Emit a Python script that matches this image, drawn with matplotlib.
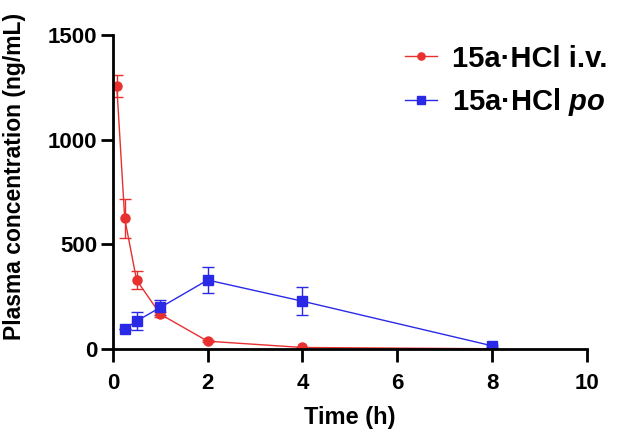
import matplotlib.pyplot as plt

plt.rcParams['font.family'] = ['Liberation Sans', 'DejaVu Sans']
plt.rcParams['font.weight'] = 'bold'
plt.rcParams['mathtext.fontset'] = 'custom'
plt.rcParams['mathtext.bfit'] = 'Liberation Sans:bold:italic'

# time points (h)
t_iv = [0.083, 0.25, 0.5, 1, 2, 4, 8]
c_iv = [1256, 624, 330, 167, 38, 8, 2]
sd_iv = [53, 95, 45, 12, 6, 2, 1]

t_po = [0.25, 0.5, 1, 2, 4, 8]
c_po = [97, 134, 199, 330, 229, 16]
sd_po = [0, 44, 38, 60, 68, 4]

red = '#e8302f'
blue = '#2a2ae6'

fig = plt.figure(figsize=(6.27, 4.37), dpi=100)
ax = fig.add_axes([0.180, 0.201, 0.756, 0.719])

ax.errorbar(t_iv, c_iv, yerr=sd_iv, fmt='none', ecolor=red,
            elinewidth=1, capsize=4, capthick=1)
ax.errorbar(t_po, c_po, yerr=sd_po, fmt='none', ecolor=blue,
            elinewidth=1, capsize=4, capthick=1)
ax.plot(t_iv, c_iv, color=red, marker='o', markersize=6.5, linewidth=1,
        label='15a·HCl i.v.')
ax.plot(t_po, c_po, color=blue, marker='s', markersize=6.5, linewidth=1,
        label='15a·HCl $\\mathbfit{po}$')

ax.set_xlim(0, 10)
ax.set_ylim(0, 1500)
ax.set_xticks([0, 2, 4, 6, 8, 10])
ax.set_yticks([0, 500, 1000, 1500])
ax.spines['top'].set_visible(False)
ax.spines['right'].set_visible(False)
for s in ['left', 'bottom']:
    ax.spines[s].set_linewidth(2)
ax.tick_params(width=2, length=9, labelsize=16)
ax.tick_params(axis='x', pad=8)
ax.tick_params(axis='y', pad=2)
ax.set_xlabel('Time (h)', fontsize=17, fontweight='bold')
ax.set_ylabel('Plasma concentration (ng/mL)', fontsize=16.5, fontweight='bold')
ax.yaxis.set_label_coords(-0.183, 0.55)
ax.xaxis.set_label_coords(0.5, -0.182)

ax.legend(loc='upper left', bbox_to_anchor=(0.616, 0.969), frameon=False,
          fontsize=21, handlelength=1.1, handletextpad=0.5, labelspacing=0.45,
          borderaxespad=0, borderpad=0, markerscale=0.8)

fig.savefig('out.png', dpi=100)
